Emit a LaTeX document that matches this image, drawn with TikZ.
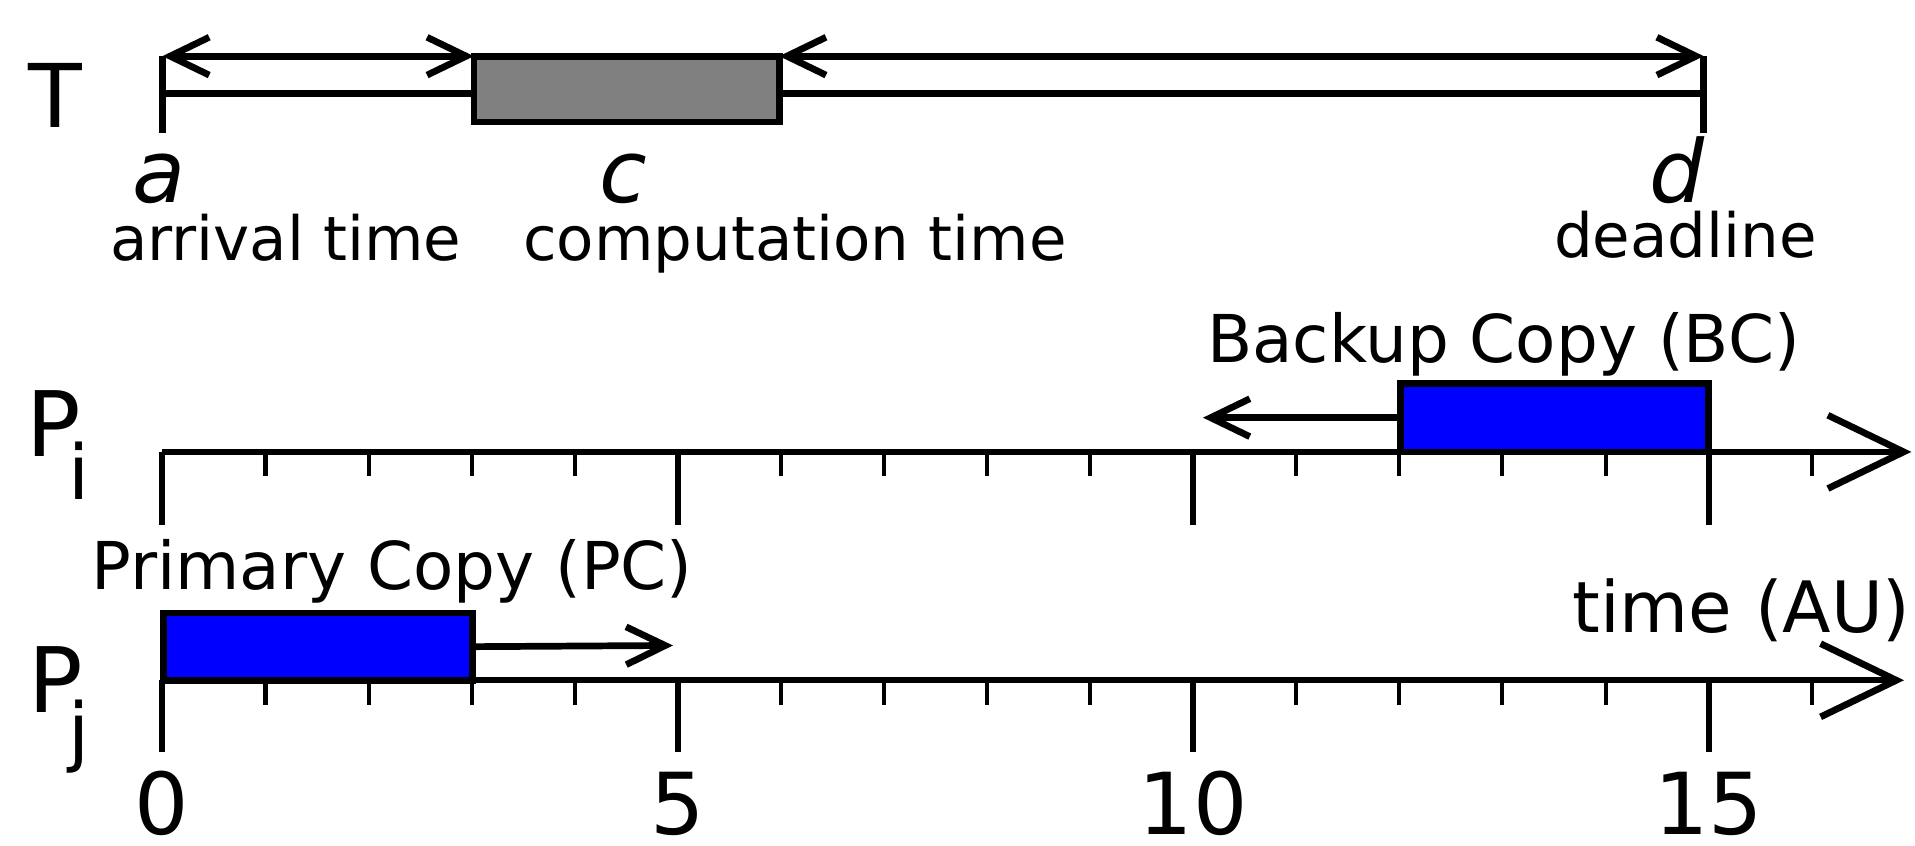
\documentclass[tikz,border=0pt]{standalone}
\usepackage{fontspec}
\setmainfont{DejaVu Sans}
\usetikzlibrary{arrows.meta}
\begin{document}
\begin{tikzpicture}[x=1pt,y=-1pt,line width=5.5pt,
  every node/.style={inner sep=0pt,outer sep=0pt},
  txt/.style={anchor=base,font=\fontsize{50}{60}\selectfont},
  tag/.style={anchor=base,font=\fontsize{54}{64}\selectfont},
  big/.style={anchor=base,font=\fontsize{72}{80}\selectfont},
  proc/.style={anchor=base,font=\fontsize{74}{80}\selectfont},
  var/.style={anchor=base,font=\fontsize{71}{80}\selectfont\itshape},
  sub/.style={anchor=base,font=\fontsize{62}{70}\selectfont},
  num/.style={anchor=base,font=\fontsize{70}{80}\selectfont},
  job/.style={draw,fill=blue,anchor=north west},
  tip/.style={-{Straight Barb[length=32pt,width=31pt,sharp]}},
  dtip/.style={{Straight Barb[length=32pt,width=31pt,sharp]}-{Straight Barb[length=32pt,width=31pt,sharp]}},
  axis/.style={line width=4.8pt,-{Straight Barb[length=62pt,width=60pt,sharp,line width=5.5pt]}},
  minortick/.style={line width=3.3pt},
  majortick/.style={line width=5pt}]
\useasboundingbox (0,0) rectangle (1568,692);

% ---- task T: arrival, computation, deadline ----
\node[big] (T) at (45,104) {T};
\coordinate (a0) at (133,46);
\coordinate (a1) at (133,108.5);
\coordinate (aL) at (133,76.5);
\coordinate (d0) at (1395,46);
\coordinate (d1) at (1395,108.5);
\coordinate (dL) at (1395,76.5);
\node[draw,fill=gray,anchor=north west,minimum width=250pt,minimum height=54pt] (cbox) at (388,46) {};
\draw (a0) -- (a1);
\draw (d0) -- (d1);
\draw (aL) -- (aL -| cbox.west);
\draw (cbox.east |- dL) -- (dL);
\draw[dtip] (a0) -- (cbox.north west);
\draw[dtip] (cbox.north east) -- (d0);
\node[var] (va) at (130,166) {a};
\node[var] (vc) at (510,166) {c};
\node[var] (vd) at (1373,166) {d};
\node[txt] (arr) at (234,213) {arrival time};
\node[txt] (comp) at (651,213) {computation time};
\node[txt] (dead) at (1380,211) {deadline};

% ---- processor P_i ----
\node[proc] (Pi) at (44,374) {P};
\node[sub] (Pisub) at (64.7,409) {i};
\coordinate (pi0) at (133,370);
\coordinate (piE) at (1565,370);
\draw[axis] (pi0) -- (piE);
\foreach \t in {0,...,16} {
  \pgfmathsetmacro\xx{133+84.4*\t}
  \draw[minortick] (\xx,370) -- (\xx,390);
}
\foreach \t in {0,5,10,15} {
  \pgfmathsetmacro\xx{133+84.4*\t}
  \draw[majortick] (\xx,370) -- (\xx,430);
}
\node[job,minimum width=252pt,minimum height=56pt] (bc) at (1147,314) {};
\coordinate (bcEnd) at (985,342);
\draw[tip] (bc.west) -- (bcEnd);
\node[tag] (bclbl) at (1231,297) {Backup Copy (BC)};

% ---- processor P_j ----
\node[proc] (Pj) at (46,583.5) {P};
\node[sub] (Pjsub) at (65,620) {j};
\coordinate (pj0) at (133,557);
\coordinate (pjE) at (1559,557);
\draw[axis] (pj0) -- (pjE);
\foreach \t in {0,...,16} {
  \pgfmathsetmacro\xx{133+84.4*\t}
  \draw[minortick] (\xx,557) -- (\xx,577);
}
\foreach \t in {0,5,10,15} {
  \pgfmathsetmacro\xx{133+84.4*\t}
  \draw[majortick] (\xx,557) -- (\xx,616);
}
\node[job,minimum width=253pt,minimum height=55pt] (pc) at (134,502) {};
\coordinate (pcEnd) at (551,528.5);
\draw[tip] (pc.east) -- (pcEnd);
\node[tag] (pclbl) at (321,483) {Primary Copy (PC)};
\node[anchor=base,font=\fontsize{58}{66}\selectfont] (tau) at (1426,518) {time (AU)};

% ---- time scale ----
\node[num] (n0) at (132.5,683) {0};
\node[num] (n5) at (555,683) {5};
\node[num] (n10) at (977,683) {10};
\node[num] (n15) at (1399,683) {15};
\end{tikzpicture}
\end{document}
